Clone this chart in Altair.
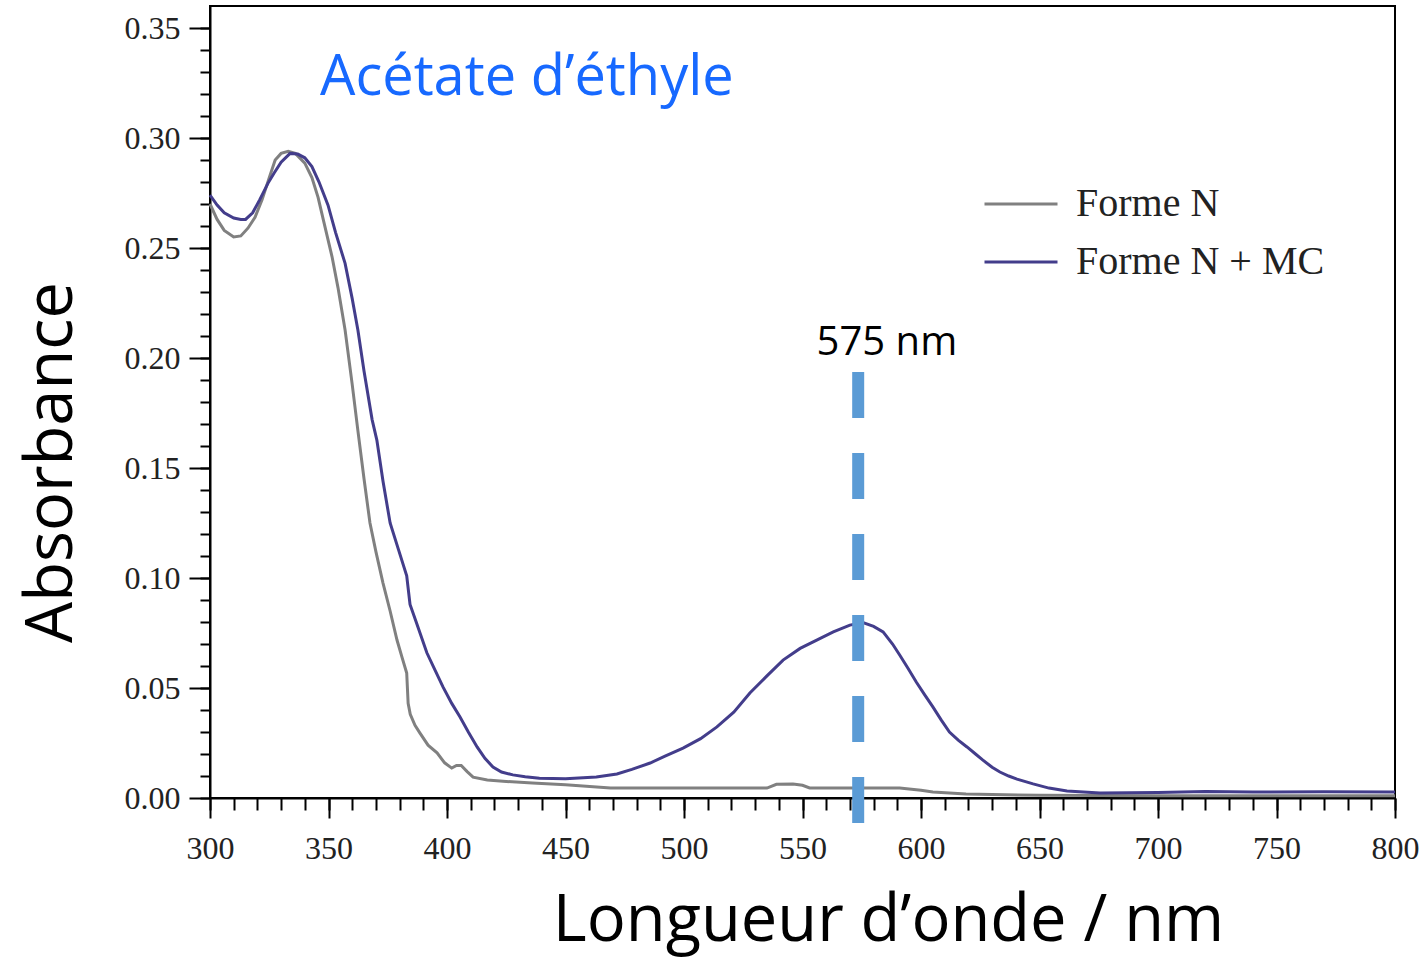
import altair as alt
import pandas as pd

# ---- data ----
SERIES = ["Forme N", "Forme N + MC"]
COLORS = ["#808080", "#433d8b"]

WL_N = [300, 303, 306, 310, 313, 316, 319, 322, 325, 327.5, 330, 333, 336, 340, 343,
        345.6, 348, 351.5, 354, 357, 360, 362.4, 365, 367.5, 370, 373, 376, 378.9, 381,
        383, 383.6, 384.5, 386.5, 388.6, 392, 395.8, 399, 402, 404, 406, 408.5, 411, 417,
        425, 436, 450, 469, 535, 539, 546, 550, 553, 591, 600, 605, 619, 650, 700, 800]
ABS_N = [0.270, 0.263, 0.258, 0.255, 0.2555, 0.259, 0.264, 0.272, 0.282, 0.290, 0.293,
         0.294, 0.293, 0.2886, 0.282, 0.273, 0.262, 0.246, 0.232, 0.2127, 0.188, 0.167,
         0.145, 0.125, 0.112, 0.0977, 0.085, 0.0718, 0.064, 0.0568, 0.043, 0.038, 0.033,
         0.0295, 0.024, 0.0205, 0.016, 0.0136, 0.0148, 0.0148, 0.012, 0.0095, 0.0082,
         0.0075, 0.0068, 0.0060, 0.0045, 0.0045, 0.0062, 0.0064, 0.0058, 0.0046, 0.0045,
         0.0035, 0.0027, 0.0018, 0.0012, 0.0010, 0.0010]

WL_MC = [300, 303, 306, 310, 313, 315, 318, 321, 324.5, 327, 330, 333.8, 337, 340, 343,
         346, 349.8, 353, 357, 360, 362.4, 365, 368.4, 370.4, 373, 376, 379.5, 383, 384.4,
         387, 391.5, 395, 398.3, 402, 405.5, 409, 412.7, 416, 419.4, 423, 427.8, 433, 439,
         450, 463, 471.7, 478, 485.7, 492, 499.6, 507, 513.9, 521, 527.8, 535, 541.8, 549,
         556, 563, 570, 575.5, 580, 584, 588, 591, 594.5, 598, 601.5, 605, 608.5, 612,
         615.7, 619.4, 623, 626, 630, 633.3, 637, 640.5, 647.3, 654, 661.6, 675.5, 700,
         720, 740, 770, 800]
ABS_MC = [0.274, 0.2695, 0.266, 0.2636, 0.263, 0.263, 0.266, 0.272, 0.2795, 0.284, 0.289,
          0.293, 0.2927, 0.291, 0.287, 0.280, 0.2695, 0.257, 0.243, 0.227, 0.2127, 0.194,
          0.172, 0.1627, 0.144, 0.125, 0.113, 0.101, 0.088, 0.080, 0.066, 0.058, 0.0505,
          0.043, 0.0368, 0.030, 0.0232, 0.018, 0.0141, 0.0118, 0.0105, 0.0097, 0.009,
          0.0088, 0.0095, 0.0109, 0.013, 0.0159, 0.019, 0.0227, 0.027, 0.0323, 0.039,
          0.0477, 0.0555, 0.0627, 0.068, 0.0718, 0.0755, 0.0786, 0.0797, 0.078, 0.0755,
          0.070, 0.065, 0.059, 0.0527, 0.047, 0.0414, 0.0355, 0.030, 0.0263, 0.0232, 0.020,
          0.0173, 0.014, 0.0118, 0.010, 0.0086, 0.0064, 0.0045, 0.0032, 0.0023, 0.0025,
          0.0030, 0.0027, 0.0028, 0.0027]

X_MAJOR = [300, 350, 400, 450, 500, 550, 600, 650, 700, 750, 800]
X_MINOR = list(range(300, 801, 10))
Y_MAJOR = [0.00, 0.05, 0.10, 0.15, 0.20, 0.25, 0.30, 0.35]
Y_MINOR = [i / 100 for i in range(0, 36)]

PEAK_NM = [573.5]
PEAK_Y = [0.1936]
PEAK_Y2 = [-0.0191]
PEAK_LABEL = ["575 nm"]
PEAK_LABEL_NM = [585.6]
PEAK_LABEL_A = [0.2014]

SOLVENT = ["Acétate d’éthyle"]
SOLVENT_NM = [346.4]
SOLVENT_A = [0.3195]

# ---- tables ----
df = pd.concat([
    pd.DataFrame({"nm": WL_N, "A": ABS_N, "serie": SERIES[0]}),
    pd.DataFrame({"nm": WL_MC, "A": ABS_MC, "serie": SERIES[1]}),
], ignore_index=True)
peak_df = pd.DataFrame({"nm": PEAK_NM, "y1": PEAK_Y, "y2": PEAK_Y2})
peak_lab_df = pd.DataFrame({"nm": PEAK_LABEL_NM, "A": PEAK_LABEL_A, "t": PEAK_LABEL})
solv_df = pd.DataFrame({"nm": SOLVENT_NM, "A": SOLVENT_A, "t": SOLVENT})

xscale = alt.Scale(domain=[300, 800], nice=False, zero=False)
yscale = alt.Scale(domain=[0, 0.36], nice=False, zero=False)

SERIF = "Liberation Serif"
SANS = "Open Sans"

lines = alt.Chart(df).mark_line(strokeWidth=3).encode(
    x=alt.X("nm:Q", scale=xscale, axis=alt.Axis(
        orient="bottom", values=X_MAJOR, tickSize=20, tickWidth=2, tickColor="black",
        domainColor="black", domainWidth=2, grid=False, labelFlush=False,
        labelFont=SERIF, labelFontSize=32, labelColor="#222", labelPadding=15,
        title="Longueur d’onde / nm", titleFont=SANS, titleFontSize=65,
        titleFontWeight="normal", titleColor="black", titleX=678, titleY=142,
        titleAlign="center", titleBaseline="alphabetic")),
    y=alt.Y("A:Q", scale=yscale, axis=alt.Axis(
        orient="left", values=Y_MAJOR, format=".2f", tickSize=21, tickWidth=2,
        tickColor="black", domainColor="black", domainWidth=2, grid=False,
        labelFlush=False,
        labelFont=SERIF, labelFontSize=32, labelColor="#222", labelPadding=9,
        title="Absorbance", titleFont=SANS, titleFontSize=65, titleFontWeight="normal",
        titleColor="black", titleAngle=270, titleX=-139, titleY=456,
        titleAlign="center", titleBaseline="alphabetic")),
    color=alt.Color("serie:N", scale=alt.Scale(domain=SERIES, range=COLORS),
                    legend=alt.Legend(
                        title=None, orient="none", legendX=773, legendY=160,
                        symbolType="stroke", symbolSize=5329, symbolStrokeWidth=3,
                        labelFont=SERIF, labelFontSize=40, labelColor="#222",
                        labelOffset=17, rowPadding=-12, padding=0, labelLimit=500)),
)

rule = alt.Chart(peak_df).mark_rule(
    color="#5b9bd5", strokeWidth=12, strokeDash=[46, 35]
).encode(
    x=alt.X("nm:Q", scale=xscale, axis=alt.Axis(
        orient="bottom", values=X_MINOR, tickSize=12, tickWidth=2, tickColor="black",
        labels=False, domain=False, grid=False, title=None)),
    y=alt.Y("y1:Q", scale=yscale, axis=alt.Axis(
        orient="left", values=Y_MINOR, tickSize=10, tickWidth=2, tickColor="black",
        labels=False, domain=False, grid=False, title=None)),
    y2="y2:Q",
)

peak_text = alt.Chart(peak_lab_df).mark_text(
    font=SANS, fontSize=40, color="black", align="center", baseline="alphabetic"
).encode(
    x=alt.X("nm:Q", scale=xscale, axis=None),
    y=alt.Y("A:Q", scale=yscale, axis=None),
    text="t:N",
)

solv_text = alt.Chart(solv_df).mark_text(
    font=SANS, fontSize=56, color="#1769ff", align="left", baseline="alphabetic"
).encode(
    x=alt.X("nm:Q", scale=xscale, axis=None),
    y=alt.Y("A:Q", scale=yscale, axis=None),
    text="t:N",
)

chart = alt.layer(lines, rule, peak_text, solv_text).resolve_axis(
    x="independent", y="independent"
).properties(
    width=1185, height=792,
    autosize=alt.AutoSizeParams(type="none"),
    padding={"left": 210, "top": 6, "right": 31, "bottom": 160},
    background="white",
).configure_view(stroke="black", strokeWidth=2)

chart.save("out.html", embed_options={"renderer": "svg", "actions": False})
